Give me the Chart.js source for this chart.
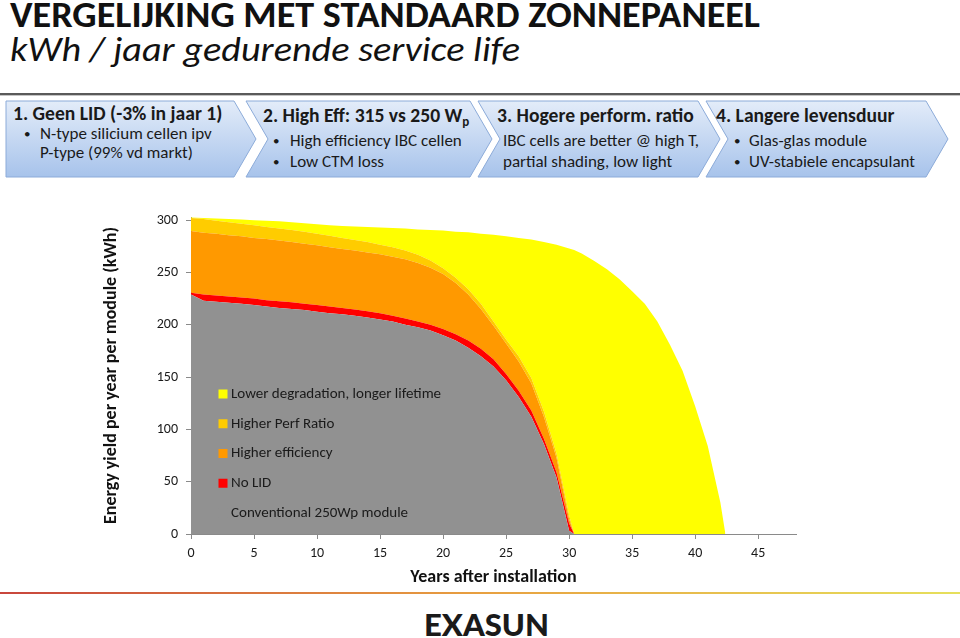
<!DOCTYPE html>
<html>
<head>
<meta charset="utf-8">
<script src="https://cdn.jsdelivr.net/npm/chart.js@4.4.1/dist/chart.umd.min.js"></script>
<style>
  html, body { margin: 0; padding: 0; background: #fff; }
  body { width: 960px; height: 638px; position: relative; overflow: hidden; }
  #page { position: absolute; left: 0; top: 0; }
  #wrap { position: absolute; left: 0; top: 200px; width: 960px; height: 400px; }
</style>
</head>
<body>
<svg id="page" width="960" height="638" font-family="Carlito, Lato, sans-serif" fill="#1a1a1a">
  <defs>
    <linearGradient id="box" x1="0" y1="0" x2="0" y2="1">
      <stop offset="0" stop-color="#e3ecf9"/>
      <stop offset="1" stop-color="#a7c3eb"/>
    </linearGradient>
    <linearGradient id="foot" x1="0" y1="0" x2="1" y2="0">
      <stop offset="0" stop-color="#c8453c"/>
      <stop offset="0.5" stop-color="#e8a040"/>
      <stop offset="1" stop-color="#e6e05c"/>
    </linearGradient>
  </defs>
  <text x="10" y="27" font-size="37" font-weight="bold" fill="#111" textLength="750" lengthAdjust="spacingAndGlyphs">VERGELIJKING MET STANDAARD ZONNEPANEEL</text>
  <text x="10" y="61" font-size="34" font-style="italic" fill="#111" textLength="510" lengthAdjust="spacingAndGlyphs">kWh / jaar gedurende service life</text>
  <rect x="0" y="93" width="960" height="2" fill="#5a5a5a"/>
  <rect x="0" y="95" width="960" height="1" fill="#c4c4c4"/>

  <g fill="url(#box)" stroke="#8cabd9" stroke-width="1">
    <polygon points="6,101 234,101 256,139 234,177 6,177"/>
    <polygon points="246,101 470,101 492,139 470,177 246,177 268,139"/>
    <polygon points="478,101 698,101 720,139 698,177 478,177 500,139"/>
    <polygon points="706,101 926,101 948,139 926,177 706,177 728,139"/>
  </g>

  <text x="13" y="120" font-size="19.6" font-weight="bold">1. Geen LID (-3% in jaar 1)</text>
  <text x="24" y="138" font-size="13">•</text>
  <text x="40" y="139" font-size="17">N-type silicium cellen ipv</text>
  <text x="40" y="158" font-size="17">P-type (99% vd markt)</text>

  <text x="263" y="122" font-size="19.6" font-weight="bold">2. High Eff: 315 vs 250 W<tspan font-size="13" dy="4">p</tspan></text>
  <text x="273" y="145" font-size="13">•</text>
  <text x="290" y="146" font-size="17">High efficiency IBC cellen</text>
  <text x="273" y="166" font-size="13">•</text>
  <text x="290" y="167" font-size="17">Low CTM loss</text>

  <text x="497" y="122" font-size="19.6" font-weight="bold">3. Hogere perform. ratio</text>
  <text x="503" y="146" font-size="17">IBC cells are better @ high T,</text>
  <text x="503" y="167" font-size="17">partial shading, low light</text>

  <text x="716" y="122" font-size="19.6" font-weight="bold">4. Langere levensduur</text>
  <text x="734" y="145" font-size="13">•</text>
  <text x="749" y="146" font-size="17">Glas-glas module</text>
  <text x="734" y="166" font-size="13">•</text>
  <text x="749" y="167" font-size="17">UV-stabiele encapsulant</text>

  <rect x="0" y="592" width="960" height="2" fill="url(#foot)"/>
  <text x="424" y="636" font-family="Lato, sans-serif" font-size="31" font-weight="900" fill="#1a1a1a" textLength="125" lengthAdjust="spacingAndGlyphs">EXASUN</text>
</svg>

<div id="wrap"><canvas id="chart" width="960" height="400"></canvas></div>

<script>
const FONT = 'Carlito, Lato, sans-serif';

// years after installation (extra points where the areas drop to zero)
const years = [0, 1, 2, 3, 4, 5, 6, 7, 8, 9, 10, 11, 12, 13, 14, 15, 16, 17, 18, 19, 20,
  21, 22, 23, 24, 25, 26, 27, 28, 29, 30, 30.4, 31, 32, 33, 34, 35, 36, 37, 38, 39, 40, 41, 42, 42.4];

// top of each area (kWh per year per module)
const conventional = [229, 223, 222, 221, 220, 219, 217.5, 216, 215, 214, 212.5, 211, 210, 208.5, 207, 205, 203, 200, 197.5, 194.5, 190,
  185, 178, 170, 160, 147, 131, 112, 86, 54, 3, 0, 0, 0, 0, 0, 0, 0, 0, 0, 0, 0, 0, 0, 0];
const noLid = [230.5, 229, 228, 227, 226, 225, 223.5, 222.5, 221.5, 220, 219, 217.5, 216, 214.5, 213, 211, 208.5, 206, 203, 200, 196,
  191, 185, 177, 167, 153, 137, 118, 91, 59, 10, 0, 0, 0, 0, 0, 0, 0, 0, 0, 0, 0, 0, 0, 0];
const higherEff = [289.5, 288, 287, 285.5, 284.5, 283, 282, 280.5, 279, 277.5, 276, 274, 272.5, 271, 269, 267.5, 265, 262.5, 259, 254.5, 248.5,
  240, 229, 215, 199, 182, 165, 144, 112, 73, 14, 0, 0, 0, 0, 0, 0, 0, 0, 0, 0, 0, 0, 0, 0];
const higherPR = [302, 301, 299.5, 298, 296.5, 295, 293.5, 292, 290.5, 289, 287, 285, 283, 281, 279, 276.5, 274, 271, 267, 261.5, 254,
  245, 234, 220, 203, 186, 170, 149, 117, 77, 18, 0, 0, 0, 0, 0, 0, 0, 0, 0, 0, 0, 0, 0, 0];
const longerLife = [302.5, 302, 301.5, 301, 300.5, 300, 299.5, 299, 298, 297, 296, 295, 294.5, 294, 293.5, 293, 292.5, 292, 291, 290.5, 290,
  289, 288.5, 287, 286, 284.5, 283, 281.5, 279, 276.5, 273, 271.5, 268, 261, 253, 243.5, 232, 220, 203, 181, 156, 122, 84, 30, 0];

const seriesLabels = ['Conventional 250Wp module', 'No LID', 'Higher efficiency', 'Higher Perf Ratio', 'Lower degradation, longer lifetime'];
const seriesValues = [conventional, noLid, higherEff, higherPR, longerLife];
const seriesColors = ['#919191', '#ff0000', '#ff9900', '#ffcc00', '#ffff00'];

Chart.defaults.font.family = FONT;
Chart.defaults.color = '#1a1a1a';

// legend drawn inside the plot, top item = last dataset
const insideLegend = {
  id: 'insideLegend',
  afterDatasetsDraw(chart) {
    const {ctx, chartArea} = chart;
    const items = chart.data.datasets.slice().reverse();
    ctx.save();
    ctx.font = '15px ' + FONT;
    ctx.textBaseline = 'middle';
    items.forEach((ds, k) => {
      const y = chartArea.top + 177 + k * 29.75;
      ctx.fillStyle = ds.backgroundColor;
      ctx.fillRect(chartArea.left + 27.5, y - 4.5, 9, 9);
      ctx.fillStyle = '#1a1a1a';
      ctx.fillText(ds.label, chartArea.left + 40, y);
    });
    ctx.restore();
  }
};

const axisGrid = { drawOnChartArea: false, drawTicks: true, tickLength: 5, color: '#8a8a8a' };

new Chart(document.getElementById('chart'), {
  type: 'line',
  data: {
    datasets: seriesLabels.map((label, i) => ({
      label: label,
      data: years.map((x, j) => ({ x: x, y: seriesValues[i][j] })),
      backgroundColor: seriesColors[i],
      borderWidth: 0,
      pointRadius: 0,
      tension: 0,
      fill: i === 0 ? 'origin' : '-1'
    }))
  },
  options: {
    responsive: false,
    animation: false,
    devicePixelRatio: 1,
    layout: { padding: { left: 99, right: 164, top: 17, bottom: 12 } },
    plugins: { legend: { display: false }, tooltip: { enabled: false } },
    scales: {
      x: {
        type: 'linear', min: 0, max: 48, z: 1,
        ticks: { stepSize: 5, includeBounds: false, padding: 6, font: { size: 14 } },
        grid: axisGrid,
        border: { color: '#8a8a8a', width: 1 },
        title: { display: true, text: 'Years after installation', font: { size: 18, weight: 'bold' }, padding: { top: 0, bottom: 0 }, color: '#111' },
        afterFit: s => { s.height = 54; }
      },
      y: {
        min: 0, max: 303, z: 1,
        ticks: { stepSize: 50, includeBounds: false, padding: 8, font: { size: 14 } },
        grid: axisGrid,
        border: { color: '#8a8a8a', width: 1 },
        title: { display: true, text: 'Energy yield per year per module (kWh)', font: { size: 18, weight: 'bold' }, padding: { top: 2, bottom: 0 }, color: '#111' },
        afterFit: s => { s.width = 92; }
      }
    }
  },
  plugins: [insideLegend]
});
</script>
</body>
</html>
